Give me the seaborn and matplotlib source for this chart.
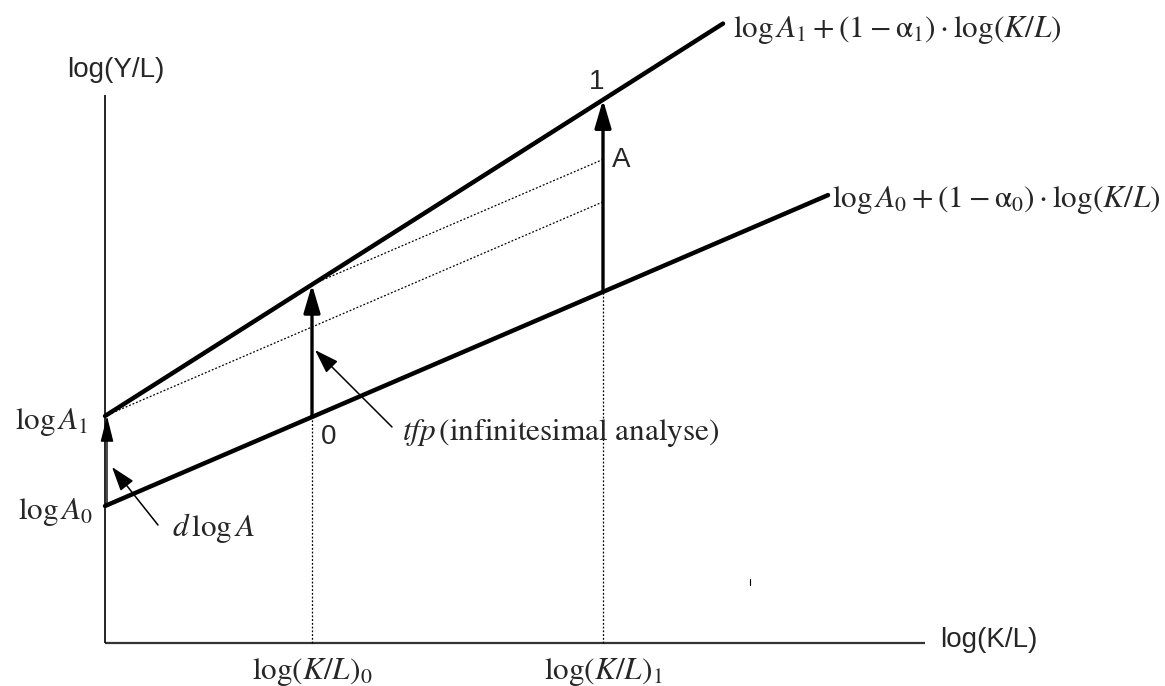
import matplotlib
matplotlib.use("Agg")
import matplotlib.pyplot as plt
import seaborn as sns
import pandas as pd
import numpy as np

sns.set_theme(style="white")
plt.rcParams['font.family'] = ['Liberation Sans', 'DejaVu Sans']
plt.rcParams['mathtext.fontset'] = 'stix'

# ---- data (diagram units) ----
lines = ["A1", "A0"]
intercepts = [227, 137]          # log A1, log A0
slopes = [0.635, 0.43]            # (1 - alpha1), (1 - alpha0)
x_ends = [618, 723]               # where each line stops
kl_points = [207, 498]            # log(K/L)0, log(K/L)1
kl_labels = [r"$\log(K/L)_0$", r"$\log(K/L)_1$"]
line_labels = [r"$\log A_1+(1-\mathrm{α}_1)\cdot\log(K/L)$",
               r"$\log A_0+(1-\mathrm{α}_0)\cdot\log(K/L)$"]
axis_max = [820, 548]             # x-axis end, y-axis end

rows = []
for name, b, m, xe in zip(lines, intercepts, slopes, x_ends):
    for xv in (0, xe):
        rows.append({"line": name, "x": xv, "y": b + m * xv})
df = pd.DataFrame(rows)

def f(i, xv):
    return intercepts[i] + slopes[i] * xv

fig = plt.figure(figsize=(11.65, 6.86), dpi=100)
ax = fig.add_axes([0, 0, 1, 1])
ax.set_xlim(-105, 1060)
ax.set_ylim(-43, 643)
ax.axis("off")

# axes
ax.plot([0, axis_max[0]], [0, 0], color="#333333", lw=1.6, solid_capstyle="butt")
ax.plot([0, 0], [0, axis_max[1]], color="black", lw=1.2, solid_capstyle="butt")

# main lines
sns.lineplot(data=df, x="x", y="y", units="line", estimator=None,
             color="black", lw=3.2, ax=ax, legend=False)

dot = dict(color="black", lw=0.9, ls=(0, (1.5, 1.5)))
# vertical dotted guides
for i, xv in enumerate(kl_points):
    ax.plot([xv, xv], [0, f(1, xv)], **dot)
# dotted parallels to lower line
ax.plot([0, kl_points[1]], [f(0, 0), f(0, 0) + slopes[1] * kl_points[1]], **dot)
ax.plot([kl_points[0], kl_points[1]],
        [f(0, kl_points[0]), f(0, kl_points[0]) + slopes[1] * (kl_points[1] - kl_points[0])], **dot)

# thick vertical arrows
for xv in kl_points:
    ax.annotate("", xy=(xv, f(0, xv)), xytext=(xv, f(1, xv)),
                arrowprops=dict(arrowstyle="-|>,head_length=0.85,head_width=0.25",
                                lw=2.4, color="black", shrinkA=0, shrinkB=0,
                                mutation_scale=20))
# d log A arrow
ax.annotate("", xy=(2, f(0, 0)), xytext=(2, f(1, 0)),
            arrowprops=dict(arrowstyle="-|>,head_length=0.8,head_width=0.2",
                            lw=1.0, color="black", shrinkA=0, shrinkB=0,
                            mutation_scale=20))

# pointer arrows
ax.annotate("", xy=(210, 293), xytext=(287, 216),
            arrowprops=dict(arrowstyle="-|>,head_length=0.75,head_width=0.25",
                            lw=1.1, color="black", shrinkA=0, shrinkB=0,
                            mutation_scale=20))
ax.annotate("", xy=(7, 176), xytext=(53, 118),
            arrowprops=dict(arrowstyle="-|>,head_length=0.75,head_width=0.25",
                            lw=1.1, color="black", shrinkA=0, shrinkB=0,
                            mutation_scale=20))

# tiny mark
ax.plot([645, 645], [58, 64], color="black", lw=0.8)

# texts
sans = 20
serif = 22.5
ax.text(11, 573, "log(Y/L)", fontsize=sans, ha="center", va="center")
ax.text(835, 3, "log(K/L)", fontsize=sans, ha="left", va="center")
ax.text(-17, 221, r"$\log A_1$", fontsize=serif, ha="right", va="center")
ax.text(-12, 131, r"$\log A_0$", fontsize=serif, ha="right", va="center")
ax.text(492, 561, "1", fontsize=sans, ha="center", va="center")
ax.text(507, 483, "A", fontsize=sans, ha="left", va="center")
ax.text(224, 206, "0", fontsize=sans, ha="center", va="center")
ax.text(67, 115, r"$d\,\log A$", fontsize=serif, ha="left", va="center")
ax.text(297, 210, r"$tfp\,\mathrm{(infinitesimal\ analyse)}$", fontsize=serif,
        ha="left", va="center")
ax.text(x_ends[0] + 10, f(0, x_ends[0]) - 6, line_labels[0], fontsize=serif,
        ha="left", va="center")
ax.text(x_ends[1] + 4, f(1, x_ends[1]) - 5, line_labels[1], fontsize=serif,
        ha="left", va="center")
for xv, lab in zip(kl_points, kl_labels):
    ax.text(xv, -29, lab, fontsize=serif, ha="center", va="center")

fig.savefig("out.png", dpi=100, facecolor="white")
